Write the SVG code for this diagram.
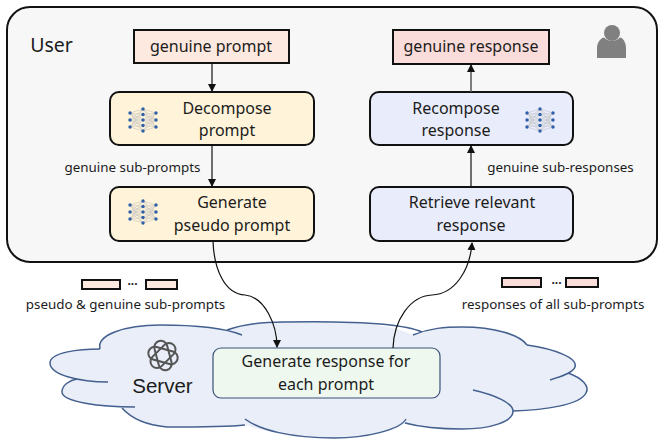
<svg xmlns="http://www.w3.org/2000/svg" width="665" height="446" viewBox="0 0 665 446">
<style>
text{font-family:"Noto Sans","Open Sans","Liberation Sans",sans-serif;fill:#1c1c1c;text-anchor:middle}
.b{font-size:16px}
.s{font-size:13.4px}
.box{stroke:#111;stroke-width:2}
.y{fill:#fff4d9}
.v{fill:#e9ecfb}
.tag{stroke:#111;stroke-width:2}
.p{fill:#fde9df}
.r{fill:#fadcda}
.line{fill:none;stroke:#111;stroke-width:1.2}
.lobe{fill:none;stroke:#44608f;stroke-width:1.5}
</style>
<defs>
<marker id="arrow" markerUnits="userSpaceOnUse" markerWidth="9" markerHeight="9" refX="7" refY="4" orient="auto"><path d="M0 0L8 4L0 8Z" fill="#111"/></marker>
<g id="nn">
<path d="M-13-7L0-11M-13-7L0-5.500M-13-7L0 0M-13-7L0 5.500M-13-7L0 11M-13 0L0-11M-13 0L0-5.500M-13 0L0 0M-13 0L0 5.500M-13 0L0 11M-13 7L0-11M-13 7L0-5.500M-13 7L0 0M-13 7L0 5.500M-13 7L0 11M13-7L0-11M13-7L0-5.500M13-7L0 0M13-7L0 5.500M13-7L0 11M13 0L0-11M13 0L0-5.500M13 0L0 0M13 0L0 5.500M13 0L0 11M13 7L0-11M13 7L0-5.500M13 7L0 0M13 7L0 5.500M13 7L0 11" stroke="#bbb" stroke-width=".5" fill="none"/>
<g fill="#2f5fa8"><circle cx="-13" cy="-7" r="1.700"/><circle cx="-13" cy="0" r="1.700"/><circle cx="-13" cy="7" r="1.700"/><circle cx="13" cy="-7" r="1.700"/><circle cx="13" cy="0" r="1.700"/><circle cx="13" cy="7" r="1.700"/><circle cx="0" cy="-11" r="1.700"/><circle cx="0" cy="-5.500" r="1.700"/><circle cx="0" cy="0" r="1.700"/><circle cx="0" cy="5.500" r="1.700"/><circle cx="0" cy="11" r="1.700"/></g>
</g>
</defs>

<g id="user-panel">
<rect x="7" y="7" width="650" height="255" rx="23" fill="#f7f7f7" stroke="#111" stroke-width="2"/>
<text x="51.500" y="52" style="font-size:19.5px">User</text>
<g fill="#808080"><circle cx="612" cy="33" r="8"/><path d="M597 58V48C597 42 601 38 604 37.500C608 42 616 42 620 37.500C623 38 626 42 626 48V58Z"/></g>
</g>

<g id="server-cloud">
<path d="M100 349C96 335 125 325 160 325C185 325 210 327 227 330C240 325 260 322 283 322C340 321 390 323 413 335C430 328 445 327 462 327C495 327 520 335 527 345C555 349 578 358 575 367L568 373C582 378 590 386 586 393C580 405 545 410 513 411C513 422 490 429 462 429C440 429 420 427 405 423C395 432 365 438 335 438C290 438 260 430 245 425C225 427 200 427 167 427C145 425 130 417 122 408C100 407 62 402 62 392C62 385 70 380 77 379C60 375 50 370 50 363C50 352 80 349 100 349Z" fill="#e9eef8"/>
<g class="lobes">
<path class="lobe" d="M100 349C96 335 125 325 160 325C195 325 225 328 242 335"/>
<path class="lobe" d="M227 330C240 325 260 322 283 322C340 321 400 322 422 332"/>
<path class="lobe" d="M413 335C430 328 445 327 462 327C495 327 520 335 527 345"/>
<path class="lobe" d="M527 345C555 349 578 358 575 367C573 373 560 377 550 380"/>
<path class="lobe" d="M568 373C582 378 590 386 586 393C580 405 545 410 513 411"/>
<path class="lobe" d="M473 390C495 395 513 403 513 411C513 422 490 429 462 429C440 429 420 427 405 423"/>
<path class="lobe" d="M406 419C400 430 365 438 335 438C290 438 260 430 245 419"/>
<path class="lobe" d="M245 425C225 427 200 427 167 427C145 425 130 417 122 408"/>
<path class="lobe" d="M135 407C100 407 62 402 62 392C62 385 70 380 77 379"/>
<path class="lobe" d="M108 382C80 382 50 375 50 363C50 352 80 349 100 349"/>
</g>
<g fill="none" stroke="#555" stroke-width="2"><rect x="148" y="349" width="30" height="13" rx="6.500" transform="rotate(15 163 355.500)"/><rect x="148" y="349" width="30" height="13" rx="6.500" transform="rotate(75 163 355.500)"/><rect x="148" y="349" width="30" height="13" rx="6.500" transform="rotate(135 163 355.500)"/></g>
<text x="162.500" y="393" style="font-family:'Liberation Sans',sans-serif;font-size:20.5px">Server</text>
</g>

<g id="generate-response">
<rect x="213" y="348" width="227" height="50" rx="8" fill="#eef8ee" stroke="#3b5078" stroke-width="1.200"/>
<text class="b" x="326" y="367">Generate response for</text>
<text class="b" x="326" y="390">each prompt</text>
</g>

<g id="genuine-prompt"><rect class="tag p" x="134" y="30" width="155" height="33"/><text class="b" x="211" y="52">genuine prompt</text></g>
<g id="genuine-response"><rect class="tag r" x="393" y="30" width="156" height="34"/><text class="b" x="471" y="52">genuine response</text></g>

<g id="decompose"><rect class="box y" x="110" y="92" width="204" height="53" rx="9"/><use href="#nn" x="143" y="120"/><text class="b" x="227" y="114">Decompose</text><text class="b" x="227" y="136">prompt</text></g>
<g id="generate-pseudo"><rect class="box y" x="110" y="187" width="204" height="54" rx="9"/><use href="#nn" x="143" y="212"/><text class="b" x="232" y="208">Generate</text><text class="b" x="232" y="231">pseudo prompt</text></g>
<g id="recompose"><rect class="box v" x="370" y="92" width="203" height="53" rx="9"/><use href="#nn" x="540" y="120"/><text class="b" x="456" y="114">Recompose</text><text class="b" x="456" y="136">response</text></g>
<g id="retrieve"><rect class="box v" x="370" y="187" width="203" height="54" rx="9"/><text class="b" x="472" y="208">Retrieve relevant</text><text class="b" x="471" y="231">response</text></g>

<g id="connectors">
<path class="line" d="M212 63V91" marker-end="url(#arrow)"/>
<path class="line" d="M212 145V186" marker-end="url(#arrow)"/>
<path class="line" d="M471 92V65" style="stroke:#555;stroke-width:1.500" marker-end="url(#arrow)"/>
<path class="line" d="M471 187V146" marker-end="url(#arrow)"/>
<path class="line" d="M213 241C214 270 225 294 245 295C265 297 277 325 277 347" marker-end="url(#arrow)"/>
<path class="line" d="M393 348C394 320 410 296 432 295C455 294 470 270 472 243" marker-end="url(#arrow)"/>
</g>

<g id="labels">
<text class="s" x="132.500" y="172">genuine sub-prompts</text>
<text class="s" x="560.500" y="172">genuine sub-responses</text>
<text class="s" x="125.500" y="309">pseudo &amp; genuine sub-prompts</text>
<text class="s" x="553" y="309">responses of all sub-prompts</text>
</g>

<g id="sub-prompts">
<rect class="tag p" x="82" y="280" width="38" height="9"/><text x="132.500" y="285" style="font-size:12px;font-weight:bold">...</text><rect class="tag p" x="146" y="280" width="31" height="9"/>
</g>
<g id="sub-responses">
<rect class="tag r" x="502" y="278" width="39" height="9"/><text x="556.500" y="284" style="font-size:12px;font-weight:bold">...</text><rect class="tag r" x="566" y="278" width="32" height="9"/>
</g>
</svg>
